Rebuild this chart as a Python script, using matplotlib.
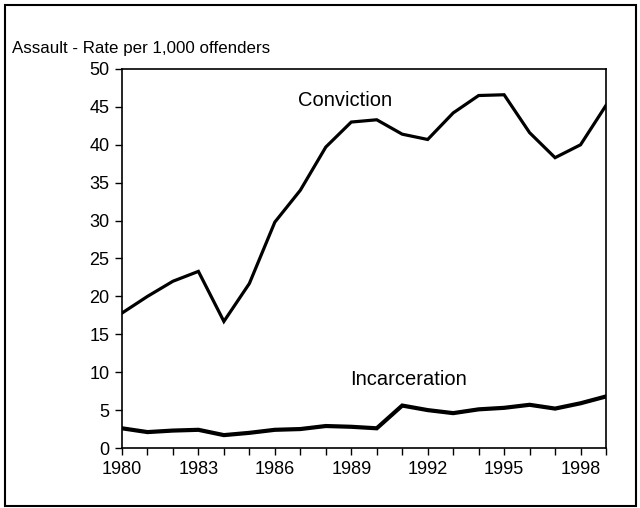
import numpy as np
import matplotlib.pyplot as plt
from matplotlib.patches import Rectangle

years = list(range(1980, 2000))
conviction = [17.8, 20.0, 22.0, 23.3, 16.7, 21.7, 29.8, 34.0, 39.7, 43.0,
              43.3, 41.4, 40.7, 44.2, 46.5, 46.6, 41.6, 38.3, 40.0, 45.2]
incarceration = [2.6, 2.1, 2.3, 2.4, 1.7, 2.0, 2.4, 2.5, 2.9, 2.8,
                 2.6, 5.6, 5.0, 4.6, 5.1, 5.3, 5.7, 5.2, 5.9, 6.8]
year_ticks = [1980, 1983, 1986, 1989, 1992, 1995, 1998]

plt.rcParams['font.family'] = ['Liberation Sans', 'DejaVu Sans']

fig = plt.figure(figsize=(6.4, 5.08), dpi=100)
ax = fig.add_axes([0.1906, 0.1181, 0.7563, 0.7461])

ax.plot(years, conviction, color='black', linewidth=2.3, solid_joinstyle='miter')
ax.plot(years, incarceration, color='black', linewidth=3.0, solid_joinstyle='miter')

ax.set_xlim(1980, 1999)
ax.set_ylim(0, 50)
ax.set_xticks(years, minor=True)
ax.set_xticks(year_ticks)
ax.set_yticks(np.arange(0, 51, 5))
ax.tick_params(axis='both', which='both', direction='out', length=5, width=1, labelsize=13, pad=4)
ax.tick_params(axis='x', which='minor', labelbottom=False)
for s in ax.spines.values():
    s.set_linewidth(1.2)

# line labels
ax.text(1988.76, 45.9, "Conviction", ha='center', va='center', fontsize=14.5)
ax.text(1991.23, 9.1, "Incarceration", ha='center', va='center', fontsize=14.5)

fig.text(12 / 640, 1 - 48 / 508, "Assault - Rate per 1,000 offenders", ha='left', va='center', fontsize=12.2)

fig.patches.append(Rectangle((5 / 640, 2 / 508), 631 / 640, 501 / 508, transform=fig.transFigure,
                             fill=False, edgecolor='black', linewidth=1.5))

fig.savefig('out.png', dpi=100)
